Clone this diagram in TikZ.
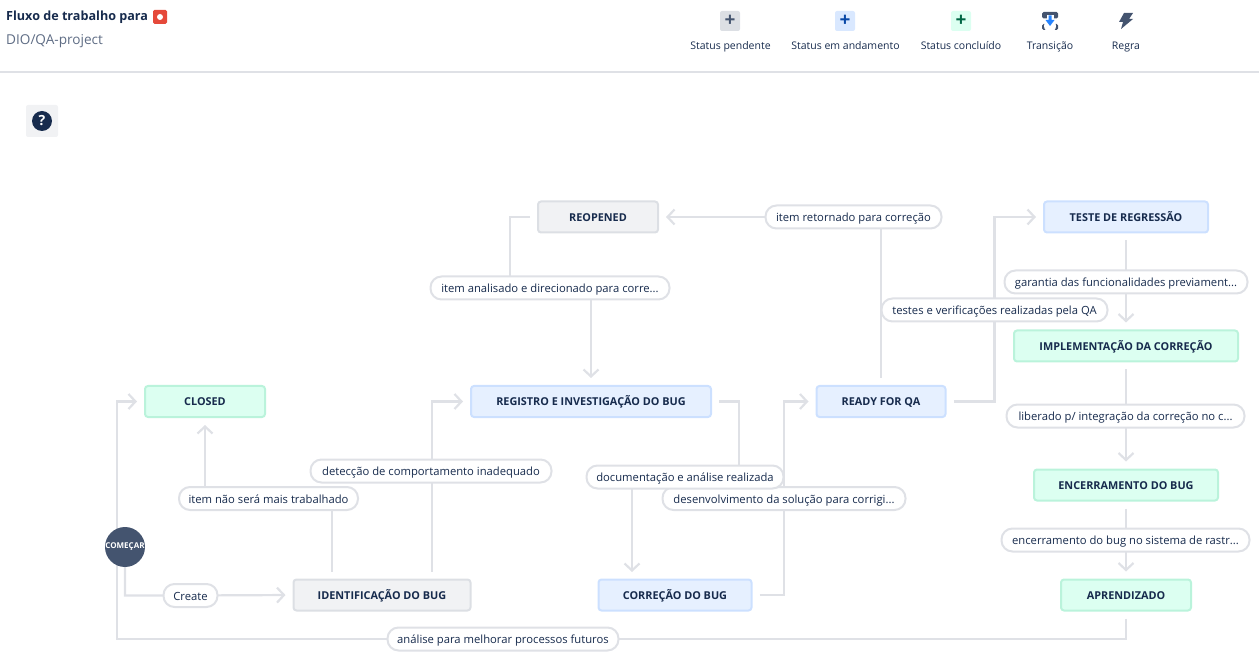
\documentclass[tikz,border=0pt]{standalone}
\usepackage{fontspec}
\setmainfont{Open Sans}
\usetikzlibrary{arrows.meta}
\usetikzlibrary{backgrounds}
\definecolor{linegray}{HTML}{DFE1E6}
\definecolor{inktext}{HTML}{172B4D}
\definecolor{subtext}{HTML}{5E6C84}
\definecolor{slate}{HTML}{44546F}
\definecolor{todofill}{HTML}{F1F2F4}
\definecolor{todoedge}{HTML}{DCDFE4}
\definecolor{doingfill}{HTML}{E6F0FF}
\definecolor{doingedge}{HTML}{CCE0FF}
\definecolor{donefill}{HTML}{DCFFF1}
\definecolor{doneedge}{HTML}{BAF3DB}
\definecolor{badgered}{HTML}{E5493A}
\definecolor{plusblue}{HTML}{0747A6}
\definecolor{plusgreen}{HTML}{006644}
\definecolor{arrowblue}{HTML}{2684FF}
\begin{document}
\begin{tikzpicture}[x=1pt, y=-1pt]
    \tikzset{>={Straight Barb[length=7pt, width=15pt]}}
    \tikzset{status/.style={draw, line width=2pt, rounded corners=3pt, outer sep=1pt, minimum height=31pt, inner sep=0pt, text height=9pt, text depth=0pt, text=inktext, font=\fontsize{10.85}{12}\selectfont\bfseries}}
    \tikzset{todo/.style={status, fill=todofill, draw=todoedge}}
    \tikzset{doing/.style={status, fill=doingfill, draw=doingedge}}
    \tikzset{done/.style={status, fill=donefill, draw=doneedge}}
    \tikzset{pill/.style={draw=linegray, fill=white, line width=2pt, rounded corners=11pt, outer sep=0pt, minimum height=23pt, inner sep=0pt, text height=11pt, text depth=2pt, text=inktext, font=\fontsize{11.25}{13}\selectfont}}
    \tikzset{link/.style={draw=linegray, line width=2.2pt, shorten <=7pt, shorten >=7pt}}
    \tikzset{legend/.style={text=inktext, inner sep=0pt, text height=9pt, text depth=2pt, font=\fontsize{10.5}{12}\selectfont}}
    \tikzset{plusbox/.style={rounded corners=2pt, minimum size=20pt, inner sep=0pt, font=\fontsize{19}{19}\selectfont\bfseries}}
    \useasboundingbox (0, 0) rectangle (1259, 660);

    \node[anchor=west, inner sep=0pt, text height=10pt, text depth=3pt, text=inktext, font=\fontsize{12.6}{15}\selectfont\bfseries] (title) at (6, 17.5) {Fluxo de trabalho para};
    \node[fill=badgered, rounded corners=1.5pt, minimum size=14pt, inner sep=0pt] (badge) at (160, 17) {};
    \node[circle, fill=white, minimum size=6pt, inner sep=0pt] (badgedot) at (badge) {};
    \node[anchor=west, inner sep=0pt, text height=10pt, text depth=3pt, text=subtext, font=\fontsize{13.6}{15}\selectfont] (project) at (6, 41) {DIO/QA-project};
    \draw[linegray, line width=2pt] (0, 72) -- (1259, 72);

    \node[plusbox, fill=todoedge, text=slate] (plustodo) at (730, 21) {+};
    \node[plusbox, fill=doingedge!50!doingfill, text=plusblue] (plusdoing) at (845, 21) {+};
    \node[plusbox, fill=donefill, text=plusgreen] (plusdone) at (961, 21) {+};
    \node[legend] (legtodo) at (730.5, 46) {Status pendente};
    \node[legend] (legdoing) at (845.5, 46) {Status em andamento};
    \node[legend] (legdone) at (961, 46) {Status concluído};
    \node[legend] (legtrans) at (1050, 46) {Transição};
    \node[legend] (legrule) at (1126, 46) {Regra};
    \fill[slate, rounded corners=1.5pt] (1042, 12) rectangle (1058, 18.5);
    \fill[slate, rounded corners=1.5pt] (1042, 24) rectangle (1058, 30);
    \fill[white] (1050, 26) circle (6);
    \fill[white] (1046.5, 15) rectangle (1053.5, 22);
    \fill[arrowblue] (1048.5, 15.5) -- (1051.5, 15.5) -- (1051.5, 20) -- (1054.5, 20) -- (1050, 26) -- (1045.5, 20) -- (1048.5, 20) -- cycle;
    \fill[slate] (1124, 13) -- (1133, 13) -- (1129, 19) -- (1133, 19) -- (1121, 29) -- (1123, 22) -- (1119, 22) -- cycle;

    \node[fill=todofill, rounded corners=2pt, minimum size=32pt, inner sep=0pt] (helpbox) at (42, 121) {};
    \node[circle, fill=inktext, minimum size=20pt, inner sep=0pt, text=white, font=\fontsize{14}{14}\selectfont\bfseries] (help) at (42, 121) {?};

    \node[done, minimum width=120pt] (closed) at (205, 401.5) {CLOSED};
    \node[todo, minimum width=120pt] (reopened) at (598, 217) {REOPENED};
    \node[doing, minimum width=240pt] (registro) at (591, 401.5) {REGISTRO E INVESTIGAÇÃO DO BUG};
    \node[doing, minimum width=129pt] (readyqa) at (881, 401.5) {READY FOR QA};
    \node[doing, minimum width=164pt] (regressao) at (1126, 217) {TESTE DE REGRESSÃO};
    \node[done, minimum width=224pt] (implementacao) at (1126, 346) {IMPLEMENTAÇÃO DA CORREÇÃO};
    \node[done, minimum width=184pt] (encerramento) at (1126, 485) {ENCERRAMENTO DO BUG};
    \node[done, minimum width=130pt] (aprendizado) at (1126, 595) {APRENDIZADO};
    \node[todo, minimum width=177pt] (identificacao) at (382, 595) {IDENTIFICAÇÃO DO BUG};
    \node[doing, minimum width=153pt] (correcao) at (675, 595) {CORREÇÃO DO BUG};

    \node[pill, minimum width=54pt] (create) at (190.5, 595.5) {Create};
    \node[pill, minimum width=179pt] (itemclosed) at (268.5, 498.5) {item não será mais trabalhado};
    \node[pill, minimum width=241pt] (deteccao) at (431, 471) {detecção de comportamento inadequado};
    \node[pill, minimum width=239pt] (analisado) at (550, 288) {item analisado e direcionado para corre...};
    \node[pill, minimum width=176pt] (retornado) at (853.5, 217) {item retornado para correção};
    \node[pill, minimum width=243pt] (garantia) at (1126, 282) {garantia das funcionalidades previament...};
    \node[pill, minimum width=226pt] (testes) at (994.5, 310) {testes e verificações realizadas pela QA};
    \node[pill, minimum width=238pt] (liberado) at (1125.5, 416) {liberado p/ integração da correção no c...};
    \node[pill, minimum width=248pt] (rastro) at (1125.5, 540) {encerramento do bug no sistema de rastr...};
    \node[pill, minimum width=243pt] (solucao) at (784, 498.5) {desenvolvimento da solução para corrigi...};
    \node[pill, minimum width=197pt] (documentacao) at (685, 477) {documentação e análise realizada};
    \node[pill, minimum width=231pt] (melhoria) at (503, 639) {análise para melhorar processos futuros};

    \node[circle, fill=slate, minimum size=40pt, inner sep=0pt, text=white, font=\fontsize{8}{8}\selectfont\bfseries] (start) at (125, 547) {COMEÇAR};
    \coordinate (leftrail) at (117, 639);
    \coordinate (regdrop) at (739, 477);
    \coordinate (corrdrop) at (632, 579);
    \coordinate (reopenturn) at (510, 288);

    \begin{scope}[on background layer]
        \draw[link, ->, shorten <=0pt] (start.south) |- (create.center) -- (identificacao.west);
        \draw[link, ->] ([xshift=-50pt]identificacao.north) |- (itemclosed.center) -| (closed.south);
        \draw[link, ->] ([xshift=50pt]identificacao.north) |- (registro.west);
        \draw[link, ->] (registro.east) -| (regdrop) -- (documentacao.center) -| (corrdrop);
        \draw[link, ->] (correcao.east) -| (solucao.center) |- (readyqa.west);
        \draw[link, ->] (readyqa.north) |- (retornado.center) -- (reopened.east);
        \draw[link, ->] (reopened.west) -| (reopenturn) -- (analisado.center) -| (registro.north);
        \draw[link, ->] (readyqa.east) -| (testes.center) |- (regressao.west);
        \draw[link, ->] (regressao.south) -- (implementacao.north);
        \draw[link, ->] (implementacao.south) -- (encerramento.north);
        \draw[link, ->] (encerramento.south) -- (aprendizado.north);
        \draw[link, ->] (aprendizado.south) |- (melhoria.center) -- (leftrail) |- (closed.west);
    \end{scope}
\end{tikzpicture}
\end{document}
